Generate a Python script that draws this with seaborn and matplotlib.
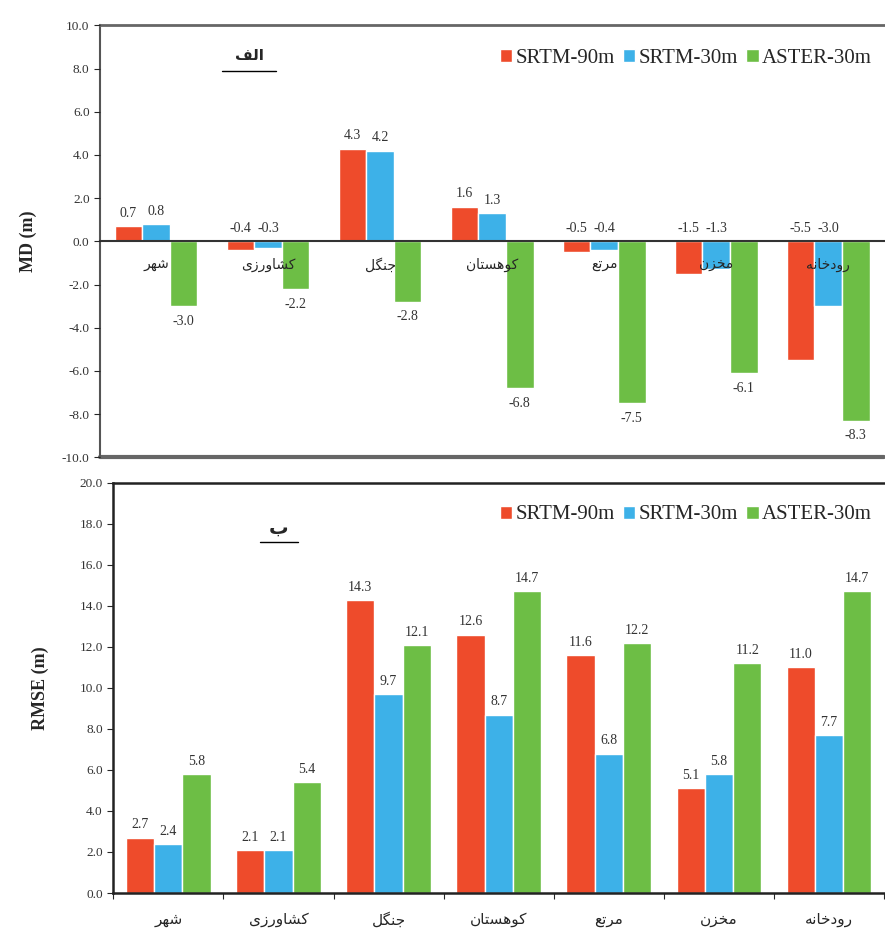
import numpy as np
import pandas as pd
import matplotlib
matplotlib.use('Agg')
import matplotlib.pyplot as plt
import seaborn as sns

sns.set_style("white")
plt.rcParams['font.family'] = ['Liberation Serif', 'DejaVu Sans']

# categories (Persian land-cover names) and series
categories = ['شهر', 'کشاورزی', 'جنگل', 'کوهستان', 'مرتع', 'مخزن', 'رودخانه']
sources = ['SRTM-90m', 'SRTM-30m', 'ASTER-30m']
colors = ['#EE4B2B', '#3DB1E8', '#6DBE45']

md_srtm90 = [0.7, -0.4, 4.3, 1.6, -0.5, -1.5, -5.5]
md_srtm30 = [0.8, -0.3, 4.2, 1.3, -0.4, -1.3, -3.0]
md_aster30 = [-3.0, -2.2, -2.8, -6.8, -7.5, -6.1, -8.3]

rmse_srtm90 = [2.7, 2.1, 14.3, 12.6, 11.6, 5.1, 11.0]
rmse_srtm30 = [2.4, 2.1, 9.7, 8.7, 6.8, 5.8, 7.7]
rmse_aster30 = [5.8, 5.4, 12.1, 14.7, 12.2, 11.2, 14.7]

md_ticks = np.arange(-10, 10.1, 2)
rmse_ticks = np.arange(0, 20.1, 2)

# matplotlib has no arabic shaping, so map letters to presentation forms
FORMS = {
    'ا': ('\uFE8D', '\uFE8E', None, None),
    'ب': ('\uFE8F', '\uFE90', '\uFE91', '\uFE92'),
    'ت': ('\uFE95', '\uFE96', '\uFE97', '\uFE98'),
    'ج': ('\uFE9D', '\uFE9E', '\uFE9F', '\uFEA0'),
    'خ': ('\uFEA5', '\uFEA6', '\uFEA7', '\uFEA8'),
    'د': ('\uFEA9', '\uFEAA', None, None),
    'ر': ('\uFEAD', '\uFEAE', None, None),
    'ز': ('\uFEAF', '\uFEB0', None, None),
    'س': ('\uFEB1', '\uFEB2', '\uFEB3', '\uFEB4'),
    'ش': ('\uFEB5', '\uFEB6', '\uFEB7', '\uFEB8'),
    'ع': ('\uFEC9', '\uFECA', '\uFECB', '\uFECC'),
    'ف': ('\uFED1', '\uFED2', '\uFED3', '\uFED4'),
    'ل': ('\uFEDD', '\uFEDE', '\uFEDF', '\uFEE0'),
    'م': ('\uFEE1', '\uFEE2', '\uFEE3', '\uFEE4'),
    'ن': ('\uFEE5', '\uFEE6', '\uFEE7', '\uFEE8'),
    'ه': ('\uFEE9', '\uFEEA', '\uFEEB', '\uFEEC'),
    'و': ('\uFEED', '\uFEEE', None, None),
    'ک': ('\uFB8E', '\uFB8F', '\uFB90', '\uFB91'),
    'گ': ('\uFB92', '\uFB93', '\uFB94', '\uFB95'),
    'ی': ('\uFBFC', '\uFBFD', '\uFBFE', '\uFBFF'),
}


def shape_fa(s):
    out = []
    for i, ch in enumerate(s):
        f = FORMS.get(ch)
        if f is None:
            out.append(ch)
            continue
        prev_j = i > 0 and s[i - 1] in FORMS and FORMS[s[i - 1]][2] is not None
        next_j = i < len(s) - 1 and s[i + 1] in FORMS and f[2] is not None
        if prev_j and next_j:
            out.append(f[3])
        elif prev_j:
            out.append(f[1])
        elif next_j:
            out.append(f[2])
        else:
            out.append(f[0])
    return ''.join(reversed(out))


cat_labels = [shape_fa(c) for c in categories]


def long_df(a, b, c):
    return pd.DataFrame({
        'cat': categories * 3,
        'src': [sources[0]] * 7 + [sources[1]] * 7 + [sources[2]] * 7,
        'val': a + b + c,
    })


df_md = long_df(md_srtm90, md_srtm30, md_aster30)
df_rmse = long_df(rmse_srtm90, rmse_srtm30, rmse_aster30)

fig = plt.figure(figsize=(8.85, 9.41), dpi=100)
ax1 = fig.add_axes([0.113, 0.514, 0.886, 0.459])
ax2 = fig.add_axes([0.128, 0.051, 0.871, 0.436])

# --- (الف) MD ---
sns.barplot(data=df_md, x='cat', y='val', hue='src', order=categories,
            hue_order=sources, palette=colors, width=0.74, gap=0,
            saturation=1, ax=ax1)
ax1.set_axisbelow(False)
ax1.set_ylim(-10, 10)
ax1.set_xlim(-0.5, 6.5)
ax1.set_yticks(md_ticks)
ax1.set_yticklabels([f'{t:.1f}' for t in md_ticks], fontsize=9.5, color='#333333')
ax1.set_xticks(range(7))
ax1.set_xticklabels(cat_labels, family='DejaVu Sans', fontweight='bold', fontsize=11)
ax1.set_xticks(np.arange(0.5, 6.5, 1), minor=True)
ax1.tick_params(axis='x', which='major', length=0, pad=12)
ax1.tick_params(axis='x', which='minor', length=4, direction='inout', width=0.8)
ax1.tick_params(axis='y', length=4, direction='out', width=0.8, left=True)
ax1.spines['bottom'].set_position(('data', 0))
ax1.spines['bottom'].set_color('#333333')
ax1.spines['bottom'].set_linewidth(1.5)
ax1.spines['right'].set_visible(False)
ax1.spines['top'].set_color('#666666')
ax1.spines['top'].set_linewidth(2)
ax1.spines['left'].set_color('#555555')
ax1.spines['left'].set_linewidth(1.5)
ax1.axhline(-10, color='#666666', lw=3, clip_on=False)
ax1.set_xlabel('')
ax1.set_ylabel('MD (m)', fontsize=13, fontweight='bold', labelpad=18)

for k, cont in enumerate(ax1.containers):
    for bar in cont:
        v = bar.get_height()
        xc = bar.get_x() + bar.get_width() / 2
        if v >= 0 or k < 2:
            ax1.text(xc, max(v, 0) + 0.3, f'{v:.1f}', ha='center', va='bottom',
                     fontsize=10, color='#333333')
        else:
            ax1.text(xc, v - 0.4, f'{v:.1f}', ha='center', va='top',
                     fontsize=10, color='#333333')

ax1.legend(loc='upper right', ncol=3, frameon=False, fontsize=15,
           handlelength=0.6, handleheight=0.6, handletextpad=0.15,
           columnspacing=0.4, bbox_to_anchor=(1.0, 0.975), borderaxespad=0.2)
ax1.text(0.19, 0.93, shape_fa('الف'), transform=ax1.transAxes, ha='center',
         va='center', family='DejaVu Sans', fontweight='bold', fontsize=11)
ax1.plot([0.155, 0.225], [0.895, 0.895], transform=ax1.transAxes, color='k', lw=1)

# --- (ب) RMSE ---
sns.barplot(data=df_rmse, x='cat', y='val', hue='src', order=categories,
            hue_order=sources, palette=colors, width=0.77, gap=0,
            saturation=1, ax=ax2)
ax2.set_ylim(0, 20)
ax2.set_xlim(-0.5, 6.5)
ax2.set_yticks(rmse_ticks)
ax2.set_yticklabels([f'{t:.1f}' for t in rmse_ticks], fontsize=9.5, color='#333333')
ax2.set_xticks(range(7))
ax2.set_xticklabels(cat_labels, family='DejaVu Sans', fontsize=11)
ax2.set_xticks(np.arange(-0.5, 7, 1), minor=True)
ax2.tick_params(axis='x', which='major', length=0, pad=14)
ax2.tick_params(axis='x', which='minor', length=4, direction='out', width=0.8, bottom=True)
ax2.tick_params(axis='y', length=4, direction='out', width=0.8, left=True)
for side in ['left', 'bottom', 'top']:
    ax2.spines[side].set_color('#222222')
    ax2.spines[side].set_linewidth(1.8)
ax2.spines['right'].set_visible(False)
ax2.set_xlabel('')
ax2.set_ylabel('RMSE (m)', fontsize=13, fontweight='bold', labelpad=22)

for cont in ax2.containers:
    for bar in cont:
        v = bar.get_height()
        xc = bar.get_x() + bar.get_width() / 2
        ax2.text(xc, v + 0.3, f'{v:.1f}', ha='center', va='bottom',
                 fontsize=10, color='#333333')

ax2.legend(loc='upper right', ncol=3, frameon=False, fontsize=15,
           handlelength=0.6, handleheight=0.6, handletextpad=0.15,
           columnspacing=0.4, bbox_to_anchor=(1.0, 0.975), borderaxespad=0.2)
ax2.text(0.215, 0.89, shape_fa('ب'), transform=ax2.transAxes, ha='center',
         va='center', family='DejaVu Sans', fontweight='bold', fontsize=14)
ax2.plot([0.19, 0.24], [0.855, 0.855], transform=ax2.transAxes, color='k', lw=1)

fig.savefig('out.png', dpi=100)
